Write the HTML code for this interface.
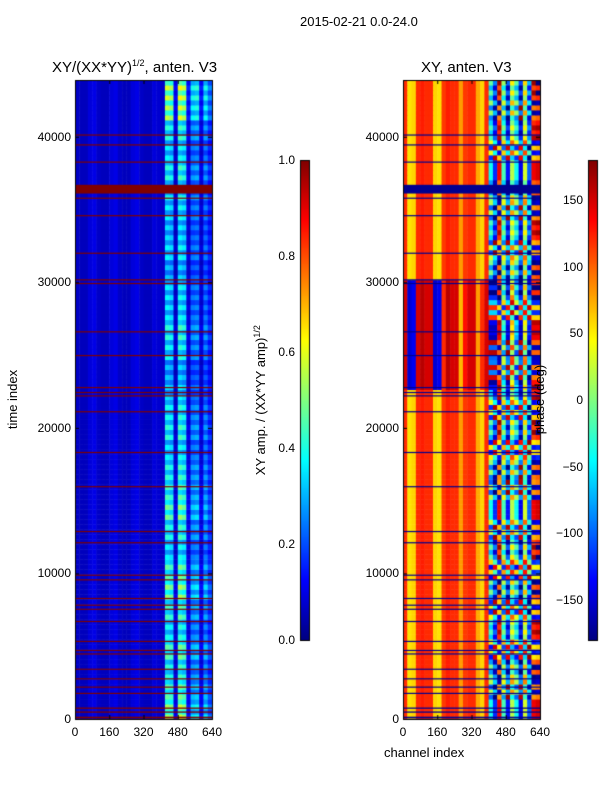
<!DOCTYPE html>
<html><head><meta charset="utf-8"><style>
body{margin:0;background:#fff;font-family:"Liberation Sans",sans-serif;}
#wrap{position:relative;width:600px;height:800px;overflow:hidden;}
.t{position:absolute;font-size:13px;color:#000;white-space:nowrap;}
.tk{position:absolute;font-size:12px;color:#000;white-space:nowrap;}
canvas{position:absolute;}
</style></head><body>
<div id="wrap">
<div class="t" style="left:300px;top:14px;">2015-02-21 0.0-24.0</div>
<div class="t" style="left:52px;top:58px;font-size:15px;">XY/(XX*YY)<sup style="font-size:9px">1/2</sup>, anten. V3</div>
<div class="t" style="left:421px;top:59px;font-size:15px;">XY, anten. V3</div>
<div class="t" style="left:-17px;top:392px;transform:rotate(-90deg);">time index</div>
<div class="t" style="left:384px;top:745px;">channel index</div>
<div class="t" style="left:185px;top:392px;transform:rotate(-90deg);">XY amp. / (XX*YY amp)<sup style="font-size:9px">1/2</sup></div>
<canvas id="c" width="600" height="800" style="left:0;top:0"></canvas>
<div class="t" style="left:505px;top:392px;transform:rotate(-90deg);">phase (deg)</div>
<div id="ticks"></div>
</div>
<script>
// ---- data ----
const tMax = 43900;
const chanMax = 640;
const xTicks = [0,160,320,480,640];
const yTicks = [0,10000,20000,30000,40000];
const ampTicks = [0.0,0.2,0.4,0.6,0.8,1.0];
const phaseTicks = [-150,-100,-50,0,50,100,150];
// left: amplitude per 20-channel column
const leftCols = [0.07,0.06,0.06,0.09,0.1,0.07,0.06,0.06,0.09,0.1,0.07,0.06,0.06,0.09,0.1,0.07,0.06,0.06,0.09,0.08,0.07,
                  0.45,0.42,0.1,0.48,0.44,0.12,0.3,0.32,0.12,0.3,0.2];
// row-band factors for bright columns (32 bands bottom->top)
const leftRowFactor = [1.1,0.95,0.85,0.95,0.8,0.9,1.05,0.95,0.75,0.85,1.0,0.9,0.85,0.75,0.85,0.8,0.7,0.65,0.8,0.85,0.75,0.75,0.65,0.75,0.7,0.75,0.8,0.85,0.75,0.85,1.15,1.2];
// flagged (bad) time rows: start, end
const flagStart = [40,430,700,1720,2150,2720,3380,4430,4670,5290,6660,7500,7780,8240,9520,9840,12070,12840,15920,18270,21070,22160,22390,22730,24930,26560,29880,30130,31960,34540,35740,36100,39400,40080,38220];
const flagEnd   = [160,520,790,1800,2230,2800,3460,4510,4750,5370,6740,7580,7860,8320,9600,9920,12150,12920,16000,18350,21150,22240,22470,22810,25010,26640,29960,30210,32040,34620,35820,36700,39480,40160,38300];
// right: phase per 20-channel column, normal regime
const rightCols = [120,55,60,120,125,120,120,60,55,115,125,120,120,80,115,120,120,75,60,120,
                   -40,-120,140,-20,-130,20,-40,-140,30,-100,140,150];
// disturbed regime (t 22600-30200)
const rightColsB = [150,-150,-140,150,160,150,150,-150,-140,120,160,150,150,70,130,150,150,80,120,150,
                   -150,-150,150,-30,-140,60,-60,-150,40,-120,150,150];
const rightRowShift = [0,60,-40,90,20,-80,40,100,-30,70,0,-60,50,-90,30,80,-20,60,-50,10,90,-30,40,-70,20,60,-40,0,80,-20,50,30];
// ---- drawing ----
const cv=document.getElementById('c');
const ctx=cv.getContext('2d');
function jet(v){v=Math.max(0,Math.min(1,v));
 const r=Math.max(0,Math.min(1,1.5-Math.abs(4*v-3))),g=Math.max(0,Math.min(1,1.5-Math.abs(4*v-2))),b=Math.max(0,Math.min(1,1.5-Math.abs(4*v-1)));
 return 'rgb('+Math.round(r*255)+','+Math.round(g*255)+','+Math.round(b*255)+')';}
const P={y0:80,y1:719,w:137};
function ys(t){return P.y1-(t/tMax)*(P.y1-P.y0);}
function xs(x0,ch){return x0+ch/chanMax*P.w;}
const nb=leftRowFactor.length, bandT=tMax/nb;
function drawPanel(x0,valFn,flagColor){
 const nc=leftCols.length, cw=chanMax/nc;
 for(let b=0;b<nb;b++){
  for(let sub=0;sub<4;sub++){
   const tA=b*bandT+sub*bandT/4,tB=tA+bandT/4;
   for(let c=0;c<nc;c++){
    ctx.fillStyle=valFn(c,b,sub,(tA+tB)/2);
    const xa=xs(x0,c*cw),xb=xs(x0,(c+1)*cw);
    ctx.fillRect(xa,ys(tB),xb-xa+0.5,ys(tA)-ys(tB)+0.5);
   }}}
 ctx.fillStyle=flagColor;
 for(let i=0;i<flagStart.length;i++){ctx.fillRect(x0,ys(flagEnd[i]),P.w,Math.max(1.2,ys(flagStart[i])-ys(flagEnd[i])));}
 ctx.strokeStyle='#000';ctx.lineWidth=1;ctx.strokeRect(x0+0.5,P.y0+0.5,P.w,P.y1-P.y0);
}
drawPanel(75,(c,b,sub)=>{let v=leftCols[c];if(c>=21){v=v*leftRowFactor[b]*(sub%2?0.8:1.1);}return jet(v);},'#800000');
drawPanel(403,(c,b,sub,t)=>{let p=(t>22600&&t<30200)?rightColsB[c]:rightCols[c];
 if(c>=20){p=p+rightRowShift[b]*(sub%2?1:-1);p=((p+180)%360+360)%360-180;}
 return jet((p+180)/360);},'#00008f');
// colorbars
function cbar(x){for(let i=0;i<480;i++){ctx.fillStyle=jet(1-i/480);ctx.fillRect(x,160+i,10,1);}ctx.strokeStyle='#000';ctx.strokeRect(x+0.5,160.5,9,480);}
cbar(300);cbar(588);
// ticks
const tk=document.getElementById('ticks');
function lab(txt,x,y,align,name){const d=document.createElement('div');d.className='tk';d.textContent=txt;
 
 
 d.style.top=(y-7)+'px';
 if(align==='r'){d.style.right=(600-x)+'px';}else{d.style.left=x+'px';d.style.transform='translateX(-50%)';}
 tk.appendChild(d);}
ctx.fillStyle='#000';
[75,403].forEach((x0,pi)=>{
 xTicks.forEach(v=>{const x=xs(x0,v);lab(String(v),x,732,'c','x-tick-label');ctx.fillRect(x,P.y1-4,1,4);ctx.fillRect(x,P.y0,1,4);});
 yTicks.forEach(v=>{const y=ys(v);lab(String(v),x0-4,y,'r','y-tick-label');ctx.fillRect(x0,y,4,1);ctx.fillRect(x0+P.w-4,y,4,1);});
});
ampTicks.forEach(v=>{const y=640-v*480;lab(v.toFixed(1),295,y,'r','colorbar-tick-label');});
phaseTicks.forEach(v=>{const y=640-(v+180)/360*480;lab(v<0?'\u2212'+(-v):String(v),583,y,'r','colorbar-tick-label');});
</script>
</body></html>
